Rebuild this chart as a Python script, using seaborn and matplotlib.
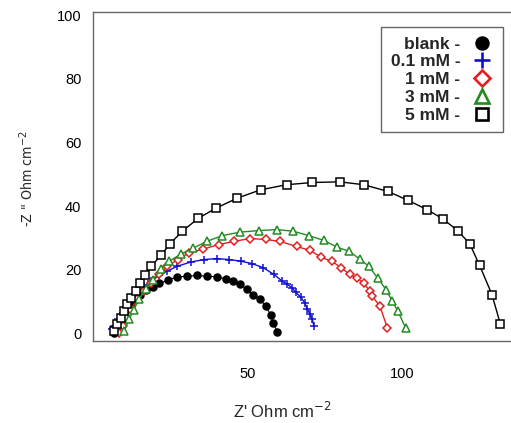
import matplotlib
matplotlib.use("Agg")
import matplotlib.pyplot as plt
from matplotlib.lines import Line2D
import seaborn as sns
import pandas as pd

# Nyquist data: Z' (real) and -Z'' (imaginary), Ohm cm-2
blank_x = [7.0, 7.5, 8.3, 9.1, 10.2, 11.3, 12.4, 13.4, 15.4, 17.2, 19.4, 21.6, 24.4, 27.4,
           30.6, 33.9, 37.1, 40.3, 43.0, 45.5, 47.6, 49.8, 51.9, 54.1, 55.9, 57.5, 58.4, 59.7]
blank_y = [0.2, 1.8, 3.3, 4.9, 6.5, 8.0, 9.6, 10.8, 12.2, 13.6, 14.6, 15.7, 16.7, 17.8,
           17.9, 18.2, 17.9, 17.8, 17.1, 16.4, 15.4, 13.8, 12.2, 10.7, 8.6, 5.9, 3.3, 0.5]

c01_x = [6.4, 7.0, 8.3, 9.7, 11.3, 12.9, 14.5, 16.6, 18.8, 21.5, 24.2, 27.4, 31.7, 36.0, 40.1,
         44.1, 47.8, 51.6, 55.2, 58.6, 61.3, 62.9, 64.5, 65.6, 67.2, 68.5, 69.4, 70.2, 71.0, 71.5]
c01_y = [1.3, 2.3, 4.4, 6.5, 8.6, 10.7, 12.7, 14.8, 16.4, 18.2, 19.6, 21.1, 22.4, 23.2, 23.5,
         23.2, 22.7, 21.9, 20.6, 18.5, 16.4, 15.4, 14.3, 12.9, 11.5, 9.6, 7.7, 6.0, 4.4, 2.3]

c1_x = [8.6, 9.7, 10.7, 12.4, 14.5, 16.6, 18.8, 21.5, 24.2, 27.6, 31.2, 35.8, 40.8, 45.7, 50.9,
        55.9, 60.5, 65.9, 70.2, 73.9, 77.4, 80.3, 83.1, 85.5, 87.6, 89.6, 90.3, 92.8, 95.2]
c1_y = [0.2, 2.3, 4.9, 7.5, 10.7, 13.3, 15.9, 18.5, 21.1, 23.2, 25.3, 26.5, 27.9, 28.9, 29.8,
        29.5, 28.9, 27.3, 26.1, 23.9, 22.6, 20.6, 18.5, 17.4, 15.7, 13.3, 11.7, 8.6, 1.8]

c3_x = [10.2, 11.8, 13.4, 15.0, 17.2, 19.4, 22.1, 24.7, 28.5, 32.6, 36.9, 41.9, 47.6, 53.8,
        59.5, 64.8, 69.9, 74.7, 79.0, 82.8, 86.3, 89.2, 92.1, 94.9, 96.8, 98.6, 101.1]
c3_y = [0.7, 4.4, 7.5, 10.7, 13.8, 16.9, 20.1, 22.6, 24.9, 26.8, 28.9, 30.7, 31.8, 32.3,
        32.6, 32.1, 30.7, 29.2, 27.1, 25.8, 23.4, 21.1, 17.4, 13.6, 10.1, 7.0, 1.8]

c5_x = [7.0, 8.0, 9.1, 10.2, 11.3, 12.4, 14.0, 15.4, 16.9, 19.0, 22.1, 25.0, 29.0, 34.1, 39.8,
        46.8, 54.3, 62.7, 71.0, 79.9, 87.6, 95.4, 101.9, 108.0, 113.1, 117.9, 121.8, 125.0,
        129.0, 131.7]
c5_y = [0.7, 2.8, 4.9, 7.0, 9.1, 11.1, 13.3, 15.7, 18.2, 21.1, 24.5, 28.1, 32.1, 36.1, 39.3,
        42.5, 45.1, 46.7, 47.4, 47.6, 46.7, 44.6, 41.8, 38.9, 36.0, 32.3, 28.2, 21.4, 12.2, 3.0]

labels = ["blank -", "0.1 mM -", "1 mM -", "3 mM -", "5 mM -"]
series = [(blank_x, blank_y), (c01_x, c01_y), (c1_x, c1_y), (c3_x, c3_y), (c5_x, c5_y)]

styles = {
    "blank -":  dict(color="black", marker="o", mfc="black", ms=5.0, lw=0.8),
    "0.1 mM -": dict(color="#1010d0", marker="+", mfc="none", ms=6, lw=1.0),
    "1 mM -":   dict(color="#e02020", marker="D", mfc="white", ms=4.0, lw=1.0),
    "3 mM -":   dict(color="#228b22", marker="^", mfc="white", ms=5.5, lw=1.0),
    "5 mM -":   dict(color="black", marker="s", mfc="white", ms=5.2, lw=1.0),
}

frames = []
for lab, (xs, ys) in zip(labels, series):
    frames.append(pd.DataFrame({"Z_re": xs, "Z_im": ys, "sample": lab}))
df = pd.concat(frames, ignore_index=True)

sns.set_style("white")
plt.rcParams["font.family"] = ["Liberation Sans", "DejaVu Sans"]

fig = plt.figure(figsize=(5.11, 4.23), dpi=100)
W, H = 511, 423
x_left, x_right = 92.5, 526.0
y_top, y_bot = 12.5, 340.7
ax = fig.add_axes([x_left / W, 1 - y_bot / H, (x_right - x_left) / W, (y_bot - y_top) / H])

for lab in labels:
    st = styles[lab]
    sub = df[df["sample"] == lab]
    sns.lineplot(data=sub, x="Z_re", y="Z_im", sort=False, estimator=None, ax=ax,
                 color=st["color"], marker=st["marker"], markersize=st["ms"],
                 markerfacecolor=st["mfc"], markeredgecolor=st["color"],
                 markeredgewidth=1.1, linewidth=st["lw"], legend=False)

ax.set_xlim(0, 140)
ax.set_ylim(-2.3, 100.8)
ax.set_xticks(range(10, 140, 10))
ax.set_xticklabels(["50" if t == 50 else "100" if t == 100 else "" for t in range(10, 140, 10)])
ax.set_yticks(range(0, 101, 10))
ax.set_yticklabels([str(t) if t % 20 == 0 else "" for t in range(0, 101, 10)])

for side in ["left", "bottom", "top", "right"]:
    ax.spines[side].set_color("#666666")
    ax.spines[side].set_linewidth(1.0)
ax.tick_params(axis="both", direction="out", length=5, width=1, color="#666666",
               labelsize=10.5, labelcolor="black", pad=3)
ax.tick_params(axis="x", pad=14)

ax.set_xlabel("")
ax.set_ylabel("")
fig.text(282 / W, 1 - 411 / H, "Z' Ohm cm$^{-2}$", ha="center", va="center",
         fontsize=12)
fig.text(27 / W, 1 - 179 / H, "-Z \" Ohm cm$^{-2}$", ha="center", va="center",
         rotation=90, fontsize=10.2, fontstretch="condensed",
         family=["DejaVu Sans", "Liberation Sans"])

handles = []
leg_ms = {"blank -": 8.5, "0.1 mM -": 11, "1 mM -": 8, "3 mM -": 9.5, "5 mM -": 8}
for lab in labels:
    st = styles[lab]
    handles.append(Line2D([], [], linestyle="none", marker=st["marker"], color=st["color"],
                          markerfacecolor=st["mfc"], markeredgecolor=st["color"],
                          markeredgewidth=1.9, markersize=leg_ms[lab]))
leg = ax.legend(handles, labels, loc="upper right", bbox_to_anchor=(503 / W, 1 - 27 / H),
                bbox_transform=fig.transFigure, markerfirst=False, frameon=True,
                fancybox=False, framealpha=1, edgecolor="#666666", borderpad=0.55,
                borderaxespad=0, labelspacing=0.15, handlelength=1.3, handletextpad=0.6,
                prop=dict(weight="bold", size=12.5))
leg.get_frame().set_linewidth(1.0)

fig.savefig("out.png", dpi=100)
